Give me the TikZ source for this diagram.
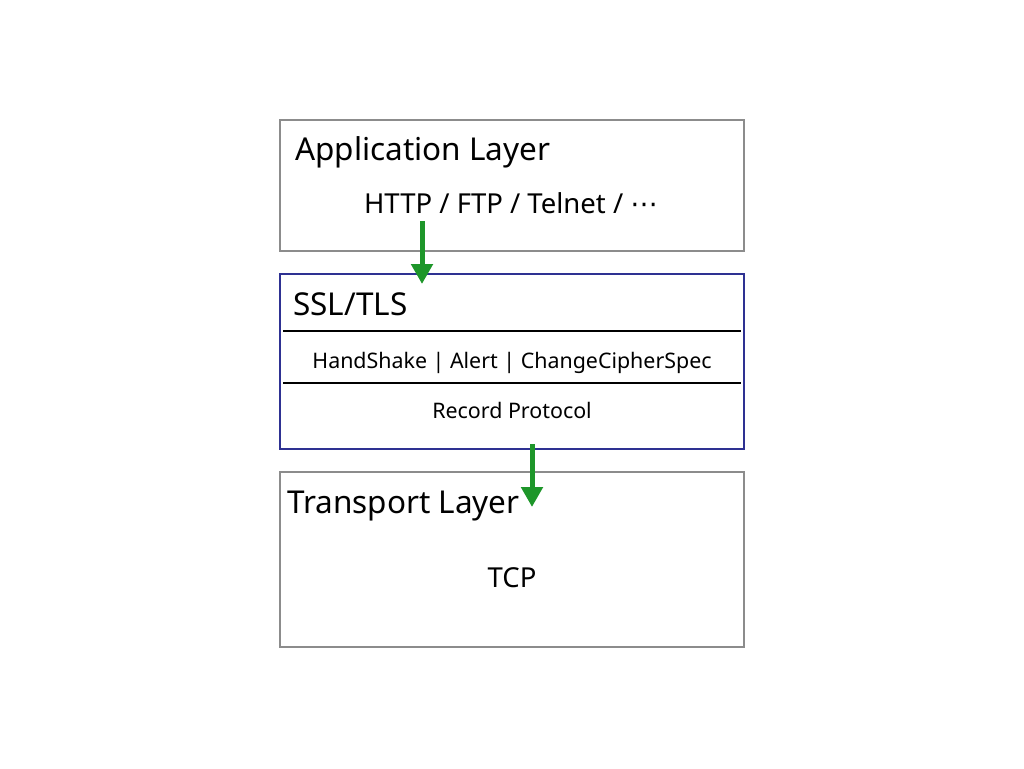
\documentclass[tikz,border=0pt]{standalone}
\usepackage{fontspec}
\setmainfont{Noto Sans}
\newfontfamily\symfont{DejaVu Sans}
\usetikzlibrary{arrows.meta}
\definecolor{boxgray}{HTML}{8C8C8C}
\definecolor{sslblue}{HTML}{2E3192}
\definecolor{arrgreen}{HTML}{1E962A}
\tikzset{
  layer/.style={draw=boxgray, line width=1.5pt},
  ssl/.style={draw=sslblue, line width=1.5pt},
  sep/.style={draw=black, line width=1.5pt},
  big/.style={font=\fontsize{31.5}{36}\selectfont, inner sep=0pt},
  mid/.style={font=\fontsize{27.5}{32}\selectfont, inner sep=0pt},
  small/.style={font=\fontsize{21.4}{25}\selectfont, inner sep=0pt},
  flow/.style={draw=arrgreen, line width=5pt, -{Triangle[width=21pt,length=20pt]}},
}
\begin{document}
\begin{tikzpicture}[x=1pt,y=-1pt]
\useasboundingbox (0,0) rectangle (1024,768);
\draw[layer] (280,120) rectangle (744,251);
\node[big, anchor=base west] (applbl) at (295,160) {Application Layer};
\node[mid, anchor=base] (apps) at (511,213) {HTTP / FTP / Telnet / {\symfont ⋯}};
\draw[ssl] (280,274) rectangle (744,449);
\node[big, anchor=base west] (ssllbl) at (293,315) {SSL/TLS};
\coordinate (s1l) at (283,331); \coordinate (s1r) at (741,331);
\coordinate (s2l) at (283,383); \coordinate (s2r) at (741,383);
\draw[sep] (s1l) -- (s1r);
\draw[sep] (s2l) -- (s2r);
\node[small, anchor=base] (hs) at (512,368) {HandShake | Alert | ChangeCipherSpec};
\node[small, anchor=base] (rec) at (512,418) {Record Protocol};
\draw[layer] (280,472) rectangle (744,647);
\node[big, anchor=base west] (trlbl) at (287,513) {Transport Layer};
\node[mid, anchor=base] (tcp) at (512,587) {TCP};
\coordinate (a1s) at (422,221); \coordinate (a1e) at (422,284);
\coordinate (a2s) at (532,444); \coordinate (a2e) at (532,507);
\draw[flow] (a1s) -- (a1e);
\draw[flow] (a2s) -- (a2e);
\end{tikzpicture}
\end{document}
